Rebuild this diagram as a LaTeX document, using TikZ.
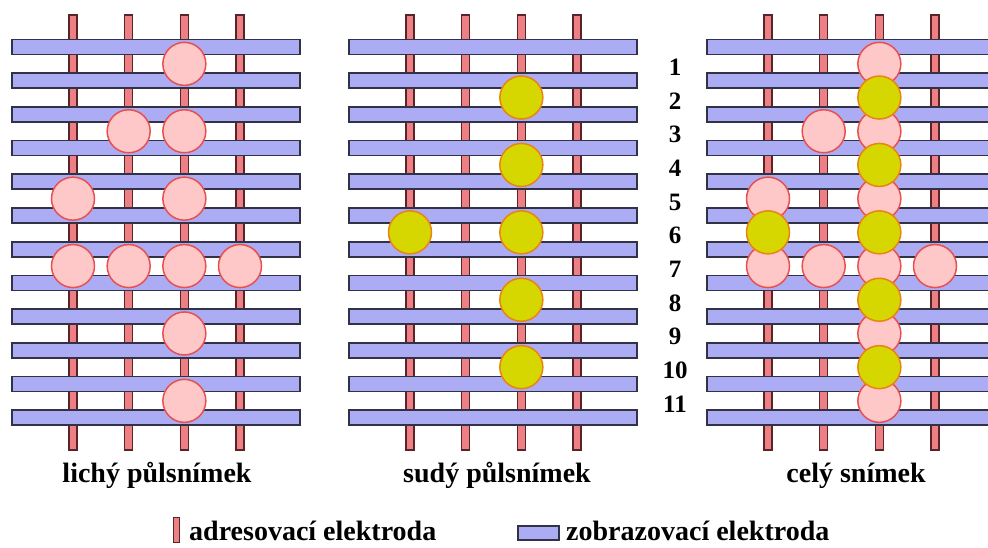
\documentclass[tikz,border=0pt]{standalone}
\usepackage{fontspec}
\setmainfont{Liberation Serif}[BoldFont={Liberation Serif Bold}]
\usepackage{tikz}
\usetikzlibrary{positioning}
\definecolor{barblue}{RGB}{172,172,244}
\definecolor{barline}{RGB}{50,50,70}
\definecolor{wirered}{RGB}{236,128,132}
\definecolor{wireline}{RGB}{90,35,40}
\definecolor{dotpink}{RGB}{255,200,200}
\definecolor{dotline}{RGB}{232,80,80}
\definecolor{dotyellow}{RGB}{214,214,0}
\definecolor{yelline}{RGB}{235,130,20}

\begin{document}
\begin{tikzpicture}[x=1pt,y=-1pt,inner sep=0pt,node distance=8pt]
\tikzstyle{bar}=[draw=barline, fill=barblue, line width=1.7pt]
\tikzstyle{wire}=[draw=wireline, fill=wirered, line width=1.4pt]
\tikzstyle{odd}=[circle, minimum size=43pt, fill=dotpink, draw=dotline, line width=1.5pt]
\tikzstyle{even}=[circle, minimum size=43pt, fill=dotyellow, draw=yelline, line width=1.5pt]
\tikzstyle{caption}=[font=\rmfamily\bfseries\fontsize{28}{30}\selectfont]
\tikzstyle{legend}=[font=\rmfamily\bfseries\fontsize{28}{30}\selectfont]
\tikzstyle{number}=[font=\rmfamily\bfseries\fontsize{25}{30}\selectfont, anchor=base]
\useasboundingbox (0,0) rectangle (988,547);
% electrodes of the three panels
\foreach \dx in {0,337,695} {
  \foreach \c in {1,...,4}
    \draw[wire] ({\dx+73+55.67*(\c-1)-4},15) rectangle ++(8,435);
  \foreach \r in {1,...,12}
    \draw[bar] ({\dx+12},{47+33.7*(\r-1)-7.5}) rectangle ++(288,15);
}
% odd half-frame
\foreach \c/\r in {3/1,2/3,3/3,1/5,3/5,1/7,2/7,3/7,4/7,3/9,3/11}
  \node[odd] (l-\c-\r) at ({73+55.67*(\c-1)},{47+33.7*(\r-0.5)}) {};
% even half-frame
\foreach \c/\r in {3/2,3/4,1/6,3/6,3/8,3/10}
  \node[even] (s-\c-\r) at ({337+73+55.67*(\c-1)},{47+33.7*(\r-0.5)}) {};
% whole frame
\foreach \c/\r in {3/1,2/3,3/3,1/5,3/5,1/7,2/7,3/7,4/7,3/9,3/11}
  \node[odd] (c-\c-\r) at ({695+73+55.67*(\c-1)},{47+33.7*(\r-0.5)}) {};
\foreach \c/\r in {3/2,3/4,1/6,3/6,3/8,3/10}
  \node[even] (c-\c-\r) at ({695+73+55.67*(\c-1)},{47+33.7*(\r-0.5)}) {};
% line numbers
\foreach \r in {1,...,11}
  \node[number] (n\r) at (675,{47+33.7*(\r-0.5)+11.5}) {\r};
% captions
\node[caption,anchor=base] (lichy) at (157,482) {lichý půlsnímek};
\node[caption,anchor=base] (sudy) at (497,482) {sudý půlsnímek};
\node[caption,anchor=base] (cely) at (856,482) {celý snímek};
% legend
\node[wire,minimum width=6pt,minimum height=25pt,anchor=north west] (adr) at (173,517) {};
\node[legend,anchor=base west] (adrtext) at (189,540) {adresovací elektroda};
\node[bar,minimum width=41pt,minimum height=14pt,anchor=north west] (zob) at (517,525) {};
\node[legend,anchor=base west] (zobtext) at (566,540) {zobrazovací elektroda};
\end{tikzpicture}
\end{document}
